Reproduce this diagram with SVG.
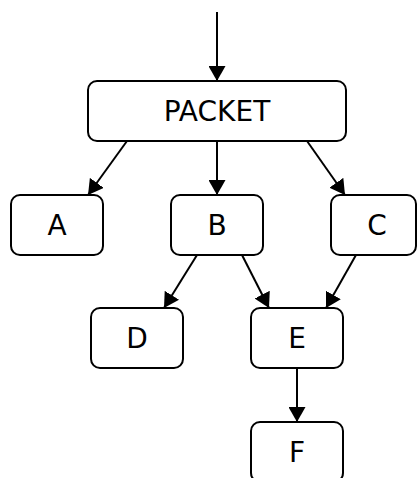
<svg xmlns="http://www.w3.org/2000/svg" width="417" height="478" viewBox="0 0 417 478">
<style>
.box{fill:#fff;stroke:#000;stroke-width:2}
.lbl{font-family:"DejaVu Sans",sans-serif;font-size:28px;fill:#000;text-anchor:middle}
.edge{stroke:#000;stroke-width:2;fill:none;marker-end:url(#ah)}
</style>
<defs>
<marker id="ah" viewBox="0 0 15 17" refX="15" refY="8.5" markerWidth="15" markerHeight="17" markerUnits="userSpaceOnUse" orient="auto">
<path d="M0,0 L15,8.5 L0,17 Z" fill="#000"/>
</marker>
</defs>
<rect width="417" height="478" fill="#fff"/>
<g id="connectors">
<line class="edge" x1="217" y1="12" x2="217" y2="81"/>
<line class="edge" x1="127" y1="141" x2="88" y2="195"/>
<line class="edge" x1="217" y1="141" x2="217" y2="195"/>
<line class="edge" x1="307" y1="141" x2="345" y2="195"/>
<line class="edge" x1="197" y1="255" x2="164" y2="308"/>
<line class="edge" x1="242" y1="255" x2="269" y2="308"/>
<line class="edge" x1="356" y1="255" x2="326" y2="308"/>
<line class="edge" x1="297" y1="368" x2="297" y2="422"/>
</g>
<g id="node-packet">
<rect class="box" x="88" y="81" width="258" height="60" rx="9"/>
<text class="lbl" x="217" y="121">PACKET</text>
</g>
<g id="node-a">
<rect class="box" x="11" y="195" width="92" height="60" rx="9"/>
<text class="lbl" x="57" y="235">A</text>
</g>
<g id="node-b">
<rect class="box" x="171" y="195" width="92" height="60" rx="9"/>
<text class="lbl" x="217" y="235">B</text>
</g>
<g id="node-c">
<rect class="box" x="331" y="195" width="85" height="60" rx="9"/>
<text class="lbl" x="377" y="235">C</text>
</g>
<g id="node-d">
<rect class="box" x="91" y="308" width="92" height="60" rx="9"/>
<text class="lbl" x="137" y="348">D</text>
</g>
<g id="node-e">
<rect class="box" x="251" y="308" width="92" height="60" rx="9"/>
<text class="lbl" x="297" y="348">E</text>
</g>
<g id="node-f">
<rect class="box" x="251" y="422" width="92" height="60" rx="9"/>
<text class="lbl" x="297" y="462">F</text>
</g>
</svg>
